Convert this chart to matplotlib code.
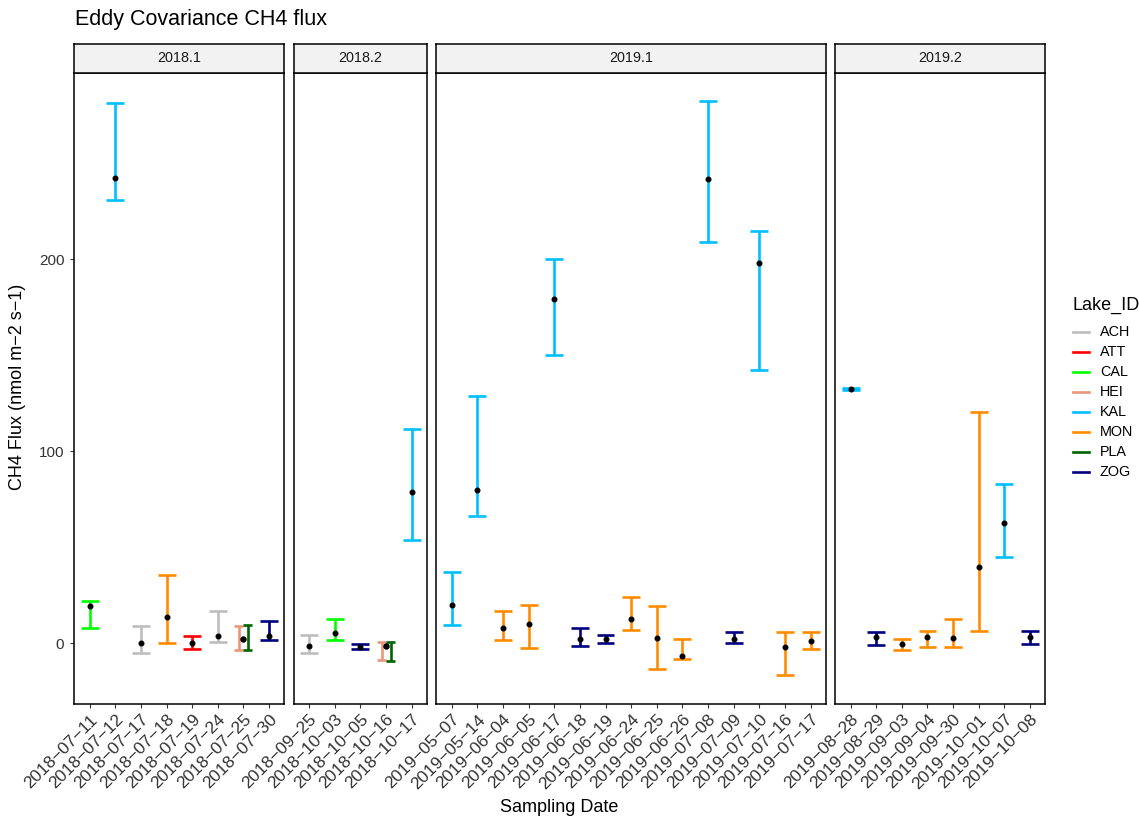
import matplotlib
matplotlib.use('Agg')
import matplotlib.pyplot as plt
from matplotlib.lines import Line2D
from matplotlib.transforms import ScaledTranslation
import numpy as np

plt.rcParams['font.family'] = ['Liberation Sans', 'DejaVu Sans']

# ---------------- data ----------------
period = ['2018.1'] * 9 + ['2018.2'] * 6 + ['2019.1'] * 15 + ['2019.2'] * 8
date = [
    '2018-07-11', '2018-07-12', '2018-07-17', '2018-07-18', '2018-07-19',
    '2018-07-24', '2018-07-25', '2018-07-25', '2018-07-30',
    '2018-09-25', '2018-10-03', '2018-10-05', '2018-10-16', '2018-10-16', '2018-10-17',
    '2019-05-07', '2019-05-14', '2019-06-04', '2019-06-05', '2019-06-17',
    '2019-06-18', '2019-06-19', '2019-06-24', '2019-06-25', '2019-06-26',
    '2019-07-08', '2019-07-09', '2019-07-10', '2019-07-16', '2019-07-17',
    '2019-08-28', '2019-08-29', '2019-09-03', '2019-09-04', '2019-09-30',
    '2019-10-01', '2019-10-07', '2019-10-08',
]
lake = [
    'CAL', 'KAL', 'ACH', 'MON', 'ATT', 'ACH', 'HEI', 'PLA', 'ZOG',
    'ACH', 'CAL', 'ZOG', 'HEI', 'PLA', 'KAL',
    'KAL', 'KAL', 'MON', 'MON', 'KAL', 'ZOG', 'ZOG', 'MON', 'MON', 'MON',
    'KAL', 'ZOG', 'KAL', 'MON', 'MON',
    'KAL', 'ZOG', 'MON', 'MON', 'MON', 'MON', 'KAL', 'ZOG',
]
flux_mean = [
    19.3, 242.7, -0.2, 13.7, 0.0, 3.6, 1.9, 2.3, 3.6,
    -1.7, 5.0, -1.9, -1.4, -1.4, 78.8,
    19.6, 79.7, 8.0, 9.9, 179.5, 2.3, 1.9, 12.8, 2.4, -6.8,
    241.8, 2.0, 197.9, -2.3, 1.2,
    132.6, 3.3, -0.5, 3.3, 2.4, 39.7, 62.5, 3.3,
]
flux_lo = [
    7.6, 231.2, -5.0, -0.2, -3.0, 0.7, -3.6, -3.4, 1.4,
    -5.0, 1.4, -3.1, -8.7, -9.2, 53.6,
    9.2, 66.3, 1.6, -2.4, 150.0, -1.7, -0.2, 6.6, -13.5, -8.2,
    209.0, 0.2, 142.5, -16.8, -3.1,
    132.1, -0.9, -3.8, -1.9, -1.9, 6.3, 44.8, -0.3,
]
flux_hi = [
    21.7, 281.4, 8.9, 35.4, 3.6, 16.8, 9.1, 9.2, 11.5,
    4.0, 12.3, -0.7, 0.5, 0.5, 111.8,
    37.0, 128.6, 16.7, 20.1, 200.4, 7.6, 4.2, 24.0, 19.4, 2.3,
    282.5, 6.0, 214.7, 5.6, 5.6,
    133.2, 5.9, 2.1, 6.3, 12.5, 120.3, 82.8, 6.4,
]
lake_levels = ['ACH', 'ATT', 'CAL', 'HEI', 'KAL', 'MON', 'PLA', 'ZOG']
lake_colors = ['#BEBEBE', '#FF0000', '#00FF00', '#E9967A', '#00BFFF',
               '#FF8C00', '#006400', '#000080']
period_levels = ['2018.1', '2018.2', '2019.1', '2019.2']
yticks = [0, 100, 200]

# ---------------- layout ----------------
W, H = 1139, 817
fig = plt.figure(figsize=(W / 100, H / 100), dpi=100)
cmap = dict(zip(lake_levels, lake_colors))

left_px = 74.3
unit_px = 25.63
gap_px = 9.3
top_px = 72.5
bot_px = 704.0
strip_top_px = 44.0

lo_all = min(flux_lo)
hi_all = max(flux_hi)
rng = hi_all - lo_all
ylim = (lo_all - 0.05 * rng, hi_all + 0.05 * rng)

MINUS = '\u2212'
tick_col = '#333333'
lab_shift = ScaledTranslation(6 / 100, -5 / 100, fig.dpi_scale_trans)
x0 = left_px
for pi, per in enumerate(period_levels):
    idx = [i for i, p in enumerate(period) if p == per]
    dates = sorted(set(date[i] for i in idx))
    n = len(dates)
    wpx = (n - 1 + 1.2) * unit_px
    ax = fig.add_axes([x0 / W, 1 - bot_px / H, wpx / W, (bot_px - top_px) / H])
    sax = fig.add_axes([x0 / W, 1 - top_px / H, wpx / W, (top_px - strip_top_px) / H])
    x0 += wpx + gap_px

    for d_i, d in enumerate(dates):
        recs = [i for i in idx if date[i] == d]
        recs.sort(key=lambda i: lake_levels.index(lake[i]))
        k = len(recs)
        sub = 0.7 / k
        for j, i in enumerate(recs):
            xc = d_i - 0.35 + (j + 0.5) * sub
            c = cmap[lake[i]]
            ax.vlines(xc, flux_lo[i], flux_hi[i], color=c, lw=1.9, zorder=2)
            ax.hlines([flux_lo[i], flux_hi[i]], xc - sub / 2, xc + sub / 2,
                      color=c, lw=1.9, zorder=2)
        for i in recs:
            ax.plot(d_i, flux_mean[i], 'o', color='black', ms=3.3, zorder=3)

    ax.set_xlim(-0.6, n - 1 + 0.6)
    ax.set_ylim(*ylim)
    ax.set_xticks(range(n))
    ax.set_xticklabels([d.replace('-', MINUS) for d in dates], rotation=45,
                       ha='right', va='top', rotation_mode='anchor',
                       fontsize=12.5, color=tick_col)
    for lab in ax.get_xticklabels():
        lab.set_transform(lab.get_transform() + lab_shift)
    ax.tick_params(axis='x', length=3.2, width=0.8, color=tick_col, pad=2.5)
    if pi == 0:
        ax.set_yticks(yticks)
        ax.set_yticklabels([str(v) for v in yticks], fontsize=11, color=tick_col)
        ax.tick_params(axis='y', length=3.0, width=0.8, color=tick_col, pad=4.2)
    else:
        ax.set_yticks([])
    for s in ax.spines.values():
        s.set_linewidth(1.1)
        s.set_color('black')

    sax.set_facecolor('#F2F2F2')
    sax.set_xticks([])
    sax.set_yticks([])
    for s in sax.spines.values():
        s.set_linewidth(1.1)
        s.set_color('black')
    sax.text(0.5, 0.5, per, ha='center', va='center', fontsize=10.4,
             color='#1A1A1A', transform=sax.transAxes)

# titles and axis labels
fig.text(75 / W, 1 - 20 / H, 'Eddy Covariance CH4 flux', ha='left', va='center',
         fontsize=15.5, color='black')
fig.text(18 / W, 1 - 387 / H, 'CH4 Flux (nmol m' + MINUS + '2 s' + MINUS + '1)',
         rotation=90, ha='center', va='center', fontsize=13, color='black')
fig.text(559 / W, 1 - 807 / H, 'Sampling Date', ha='center', va='center',
         fontsize=13, color='black')

# legend
fig.text(1072 / W, 1 - 305 / H, 'Lake_ID', ha='left', va='center', fontsize=13)
for li, (lk, col) in enumerate(zip(lake_levels, lake_colors)):
    yy = 1 - (332.3 + li * 19.9) / H
    fig.add_artist(Line2D([1073 / W, 1089 / W], [yy, yy], color=col, lw=1.9,
                          transform=fig.transFigure))
    fig.text(1100 / W, yy, lk, ha='left', va='center', fontsize=10.4)

fig.savefig('out.png', dpi=100)
